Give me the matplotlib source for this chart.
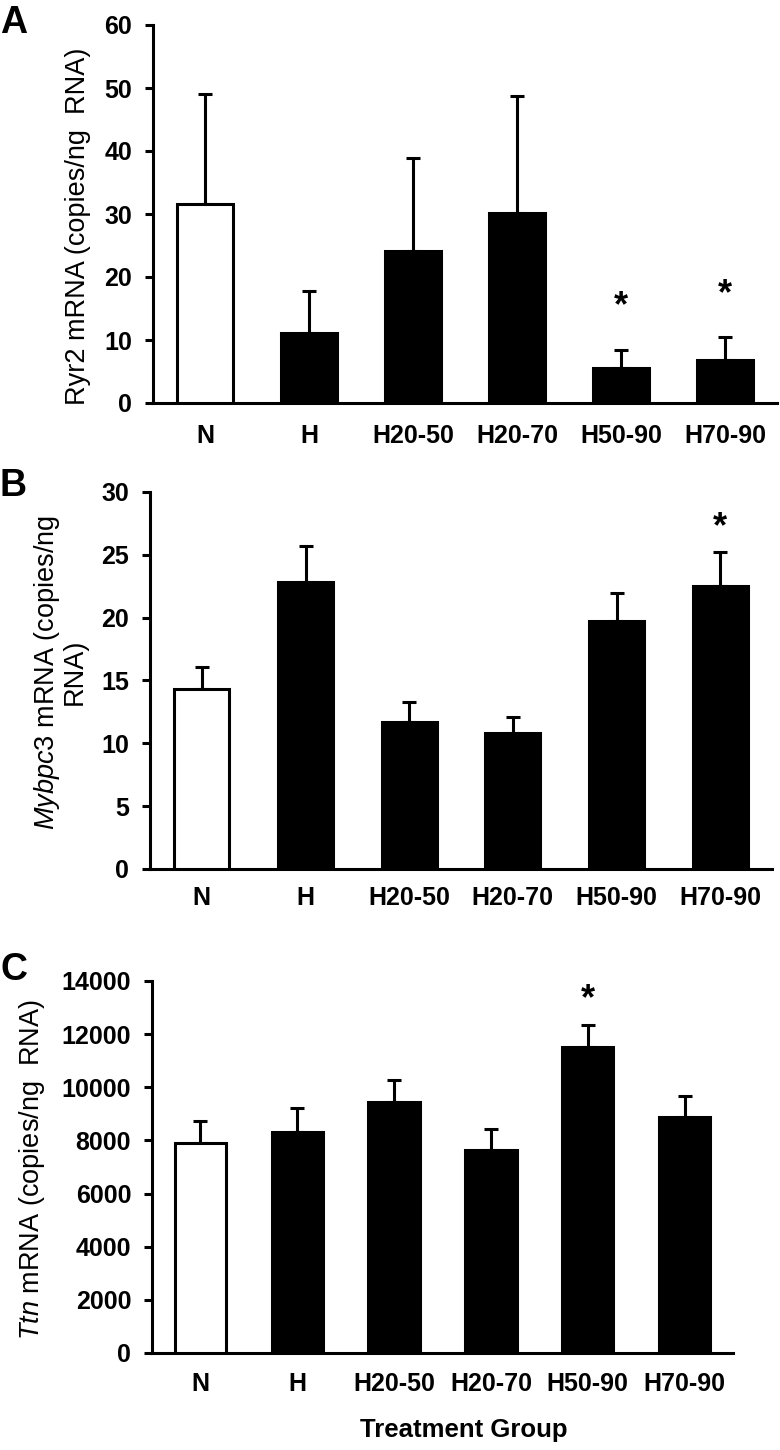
import numpy as np
import matplotlib
matplotlib.use("Agg")
import matplotlib.pyplot as plt

plt.rcParams["font.family"] = "Liberation Sans"
plt.rcParams["mathtext.fontset"] = "custom"
plt.rcParams["mathtext.rm"] = "Liberation Sans"
plt.rcParams["mathtext.it"] = "Liberation Sans:italic"

# ── Data ──
groups = ["N", "H", "H20-50", "H20-70", "H50-90", "H70-90"]

ryr2_mean = [31.6, 11.1, 24.1, 30.1, 5.5, 6.9]
ryr2_err  = [17.4, 6.7, 14.8, 18.6, 2.9, 3.5]
ryr2_sig  = [4, 5]

mybpc3_mean = [14.3, 22.8, 11.7, 10.8, 19.7, 22.5]
mybpc3_err  = [1.8, 2.9, 1.6, 1.3, 2.3, 2.7]
mybpc3_sig  = [5]

ttn_mean = [7900, 8320, 9450, 7640, 11520, 8880]
ttn_err  = [830, 900, 830, 790, 830, 790]
ttn_sig  = [4]

W, H = 780, 1450
fig = plt.figure(figsize=(W / 100, H / 100), dpi=100)

LW = 2.2
TICK_FS = 18
bar_colors = ["white"] + ["black"] * 5


def px_axes(x0, x1, y_top, y_bot):
    return fig.add_axes([x0 / W, 1 - y_bot / H, (x1 - x0) / W, (y_bot - y_top) / H])


def draw_panel(ax, mean, err, sig, ymax, step, star_off, xpad):
    x = np.arange(len(groups))
    ax.bar(x, mean, width=0.53, color=bar_colors, edgecolor="black",
           linewidth=LW, zorder=3)
    ax.errorbar(x, mean, yerr=[np.zeros(len(err)), err], fmt="none",
                ecolor="black", elinewidth=LW, capsize=4.8, capthick=LW,
                zorder=2)
    for i in sig:
        ax.annotate("*", (x[i], mean[i] + err[i]), xytext=(0, star_off),
                    textcoords="offset points", ha="center", va="center",
                    fontsize=26, fontweight="bold")
    ax.set_xlim(-0.5, len(groups) - 0.5)
    ax.set_ylim(0, ymax)
    ax.set_yticks(np.arange(0, ymax + step / 2, step))
    ax.set_xticks(x)
    ax.set_xticklabels(groups)
    for s in ["top", "right"]:
        ax.spines[s].set_visible(False)
    for s in ["left", "bottom"]:
        ax.spines[s].set_linewidth(LW)
    ax.tick_params(axis="y", direction="out", length=6, width=LW, pad=9,
                   labelsize=TICK_FS)
    ax.tick_params(axis="x", length=0, pad=xpad, labelsize=TICK_FS)
    for lab in ax.get_xticklabels() + ax.get_yticklabels():
        lab.set_fontweight("bold")


# ── Panel A ──
axA = px_axes(153, 777, 25, 403)
draw_panel(axA, ryr2_mean, ryr2_err, ryr2_sig, 60, 10, 31, 15)
fig.text(78 / W, 1 - 226 / H, "Ryr2 mRNA (copies/ng  RNA)", rotation=90,
         ha="center", va="center", fontsize=19.5)
fig.text(0, 1 - 23 / H, "A", ha="left", va="center", fontsize=27,
         fontweight="bold")

# ── Panel B ──
axB = px_axes(150, 772, 492, 869)
draw_panel(axB, mybpc3_mean, mybpc3_err, mybpc3_sig, 30, 5, 18, 12)
fig.text(60 / W, 1 - 672 / H, "$\\mathit{Mybpc3}$ mRNA (copies/ng\nRNA)",
         rotation=90, ha="center", va="center", fontsize=19.5,
         multialignment="center", linespacing=1.0)
fig.text(0, 1 - 486 / H, "B", ha="left", va="center", fontsize=27,
         fontweight="bold")

# ── Panel C ──
axC = px_axes(152, 733, 981, 1353)
draw_panel(axC, ttn_mean, ttn_err, ttn_sig, 14000, 2000, 18, 14)
fig.text(32 / W, 1 - 1170 / H, "$\\mathit{Ttn}$ mRNA (copies/ng  RNA)",
         rotation=90, ha="center", va="center", fontsize=19.5)
fig.text(0, 1 - 970 / H, "C", ha="left", va="center", fontsize=27,
         fontweight="bold")
fig.text(464 / W, 1 - 1430 / H, "Treatment Group", ha="center", va="center",
         fontsize=18.5, fontweight="bold")

plt.savefig("out.png", dpi=100, facecolor="white")
